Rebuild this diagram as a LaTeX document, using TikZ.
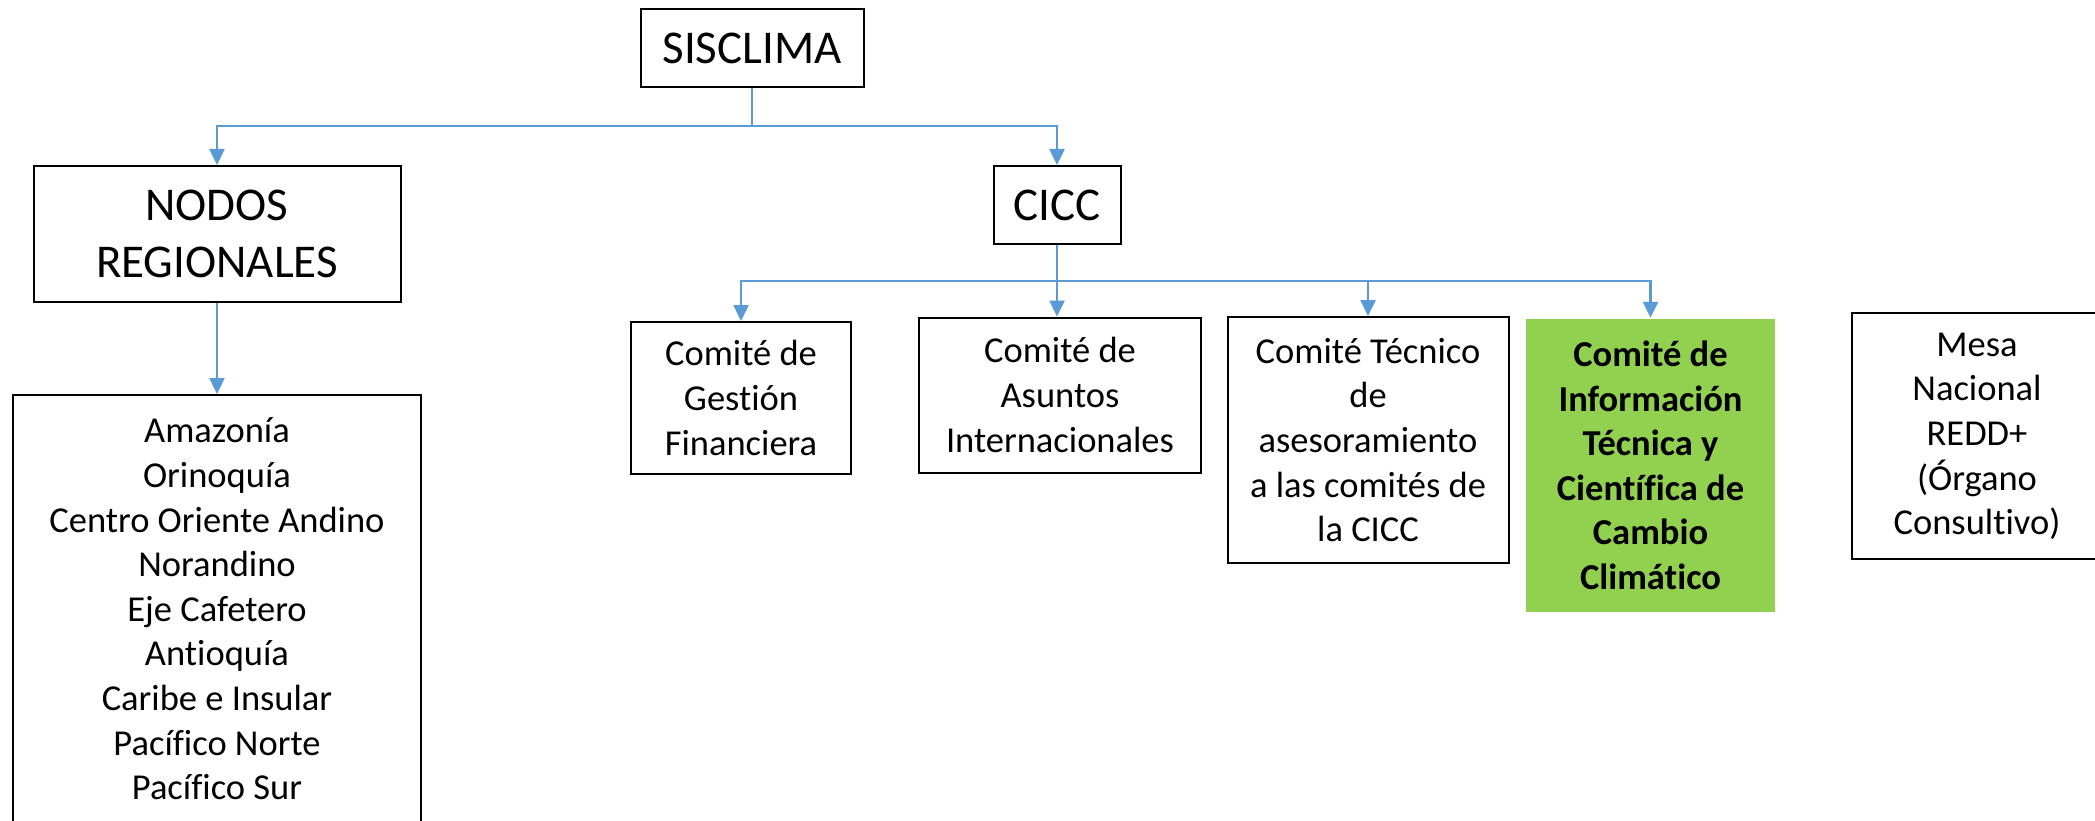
\documentclass[tikz,border=0pt]{standalone}
\usepackage{fontspec}
\setmainfont{Carlito}[Ligatures={NoCommon}]
\usetikzlibrary{arrows.meta}
\definecolor{linkblue}{HTML}{5B9BD5}
\definecolor{litegreen}{HTML}{92D050}
\begin{document}
\begin{tikzpicture}[x=1pt,y=-1pt,
  box/.style={draw=black,line width=2pt,fill=white,inner sep=0pt,align=center,
    font=\fontsize{36.5}{44.6}\selectfont},
  bigbox/.style={box,font=\fontsize{47}{57}\selectfont},
  greenbox/.style={box,draw=none,fill=litegreen,font=\fontsize{36.5}{44.6}\selectfont\bfseries},
  arr/.style={draw=linkblue,line width=2.5pt,-{Triangle[width=15pt,length=16pt]}}]
\useasboundingbox (0,0) rectangle (2095,821);
\fill[white] (0,0) rectangle (2095,821);
\node[bigbox,minimum width=223pt,minimum height=78pt] (sis) at (752,48) {SISCLIMA};
\node[bigbox,minimum width=367pt,minimum height=136pt] (nodos) at (217,234) {NODOS\\REGIONALES};
\node[bigbox,minimum width=127pt,minimum height=78pt] (cicc) at (1057,205) {CICC};
\node[box,minimum width=408pt,minimum height=428pt] (reg) at (217,609) {Amazonía\\Orinoquía\\Centro Oriente Andino\\Norandino\\Eje Cafetero\\Antioquía\\Caribe e Insular\\Pacífico Norte\\Pacífico Sur};
\node[box,minimum width=220pt,minimum height=152pt] (gest) at (741,398) {Comité de\\Gestión\\Financiera};
\node[box,minimum width=282pt,minimum height=155pt] (asun) at (1060,395) {Comité de\\Asuntos\\Internacionales};
\node[box,minimum width=281pt,minimum height=246pt] (tec) at (1368,440) {Comité Técnico\\de\\asesoramiento\\a las comités de\\la CICC};
\node[greenbox,minimum width=249pt,minimum height=293pt] (green) at (1650.5,465.3) {Comité de\\Información\\Técnica y\\Científica de\\Cambio\\Climático};
\node[box,minimum width=250pt,minimum height=246pt] (mesa) at (1977,436.3) {Mesa\\Nacional\\REDD+\\(Órgano\\Consultivo)};
\coordinate (j1) at (752,126);
\coordinate (j2) at (1057,281);
\draw[arr] (sis.south) -- (j1) -| (nodos.north);
\draw[arr] (j1) -| (cicc.north);
\draw[arr] (nodos.south) -- (reg.north);
\draw[arr] (cicc.south) -- (j2) -| (gest.north);
\draw[arr] (j2) -- (j2 |- asun.north);
\draw[arr] (j2) -| (tec.north);
\draw[arr] (j2) -| (green.north);
\end{tikzpicture}
\end{document}
